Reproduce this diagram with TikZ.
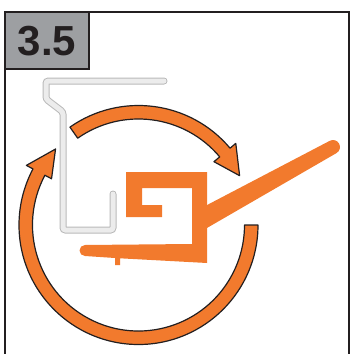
\documentclass[tikz,border=0pt]{standalone}
\usepackage{fontspec}
\setmainfont{Liberation Sans}
\definecolor{seal}{RGB}{242,122,45}
\definecolor{tabgray}{RGB}{157,159,162}
\definecolor{ink}{RGB}{35,31,32}

\begin{document}
\begin{tikzpicture}[x=1pt,y=1pt,yscale=-1,
  band/.style={fill=seal, draw=ink, line width=1.2pt, line join=round},
  profile/.style={draw=gray!55, line width=1pt, double=gray!15, double distance=5pt,
    line cap=round, rounded corners=2.5pt}]
\useasboundingbox (0,0) rectangle (352,354);

% frame and step tab
\draw[ink, line width=2.8pt] (5,360) -- (5,12) -- (349,12) -- (349,360);
\draw[ink, line width=2.8pt, fill=tabgray] (5,12) rectangle (89,69);
\node[ink, font=\bfseries\fontsize{42}{42}\selectfont] (num) at (47,41) {3.5};

% cover profile
\draw[profile] (164,81) -- (46,81) -- (46,99) -- (63,112) -- (63,230) -- (113,230) -- (113,194);

% seal body: hook, foot with stub
\fill[seal] (126,172) -- (207,172) -- (207,263) -- (120,258.3) -- (120,265) -- (115,265)
  -- (115,258) -- (85,256) arc[start angle=90, end angle=270, radius=5.5]
  -- (192,244) -- (192,188) -- (142,188) -- (142,205) -- (162,205) -- (162,217)
  -- (126,217) -- cycle;
% sealing lip
\fill[seal] (200,208.7) -- (329.6,140.9) arc[start angle=-119, end angle=61, radius=7]
  -- (200,232) -- cycle;

% turning arrows
\begin{scope}[shift={(138.5,225)}]
\draw[band] (235:119.5) arc[start angle=235, end angle=320, radius=119.5]
  -- (320:127) -- (334:112.5) -- (320:98.5) -- (320:106)
  arc[start angle=320, end angle=235, radius=106] -- cycle;
\draw[band] (0:119.5) arc[start angle=0, end angle=208, radius=119.5]
  -- (208:127) -- (222.5:112.5) -- (208:98.5) -- (208:106)
  arc[start angle=208, end angle=0, radius=106] -- cycle;
\end{scope}
\end{tikzpicture}
\end{document}
